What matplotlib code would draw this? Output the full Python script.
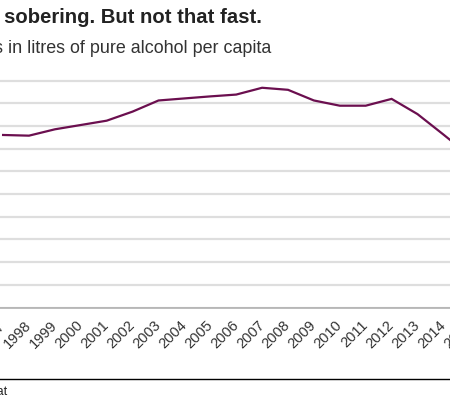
"""EU alcohol consumption, litres of pure alcohol per capita (cropped view)."""

import matplotlib
matplotlib.use("Agg")
import matplotlib.pyplot as plt
from matplotlib.lines import Line2D

years = list(range(1997, 2016))
litres = [7.60, 7.57, 7.85, 8.04, 8.23, 8.63, 9.12, 9.21, 9.30, 9.38,
          9.68, 9.59, 9.12, 8.89, 8.89, 9.19, 8.52, 7.62, 6.70]
y_ticks = list(range(0, 11))

TITLE = "EU is sobering. But not that fast."
SUBTITLE = "Alcohol consumption of EU citizens in litres of pure alcohol per capita"
SOURCE = "Source: Eurostat"

W, H = 450, 403
plt.rcParams["font.family"] = ["Liberation Sans", "DejaVu Sans"]

fig = plt.figure(figsize=(W / 100, H / 100), dpi=100)

# axes run past both figure edges so the picture looks cropped like the reference
px_per_year = 25.9
x_1997 = 3.1
left_px, right_px = -60, 510
base_px, unit_px, top_val = 307.5, 22.7, 10.3
ax = fig.add_axes([left_px / W, (H - base_px) / H,
                   (right_px - left_px) / W, unit_px * top_val / H])
ax.set_xlim(1997 + (left_px - x_1997) / px_per_year,
            1997 + (right_px - x_1997) / px_per_year)
ax.set_ylim(0, top_val)

ax.plot(years, litres, color="#6b0f4f", lw=1.6, solid_joinstyle="miter", zorder=3)

ax.set_yticks(y_ticks)
ax.yaxis.grid(True, color="#dedede", lw=1.6)
ax.set_axisbelow(True)
ax.tick_params(axis="y", left=False, labelleft=False)
ax.set_xticks(years)
ax.set_xticklabels([str(y) for y in years], rotation=45, ha="right", va="center",
                   rotation_mode="anchor", fontsize=10.5, color="#333333")
ax.tick_params(axis="x", length=0, pad=11)
for side in ("top", "left", "right"):
    ax.spines[side].set_visible(False)
ax.spines["bottom"].set_color("#b0b0b0")
ax.spines["bottom"].set_linewidth(1.2)

fig.text(262 / W, 1 - 22.7 / H, TITLE, ha="right", va="baseline",
         fontsize=14.6, fontweight="bold", color="#222222")
fig.text(271 / W, 1 - 53 / H, SUBTITLE, ha="right", va="baseline",
         fontsize=12.9, color="#333333")

fig.add_artist(Line2D([0, 1], [1 - 379.3 / H] * 2, color="black", lw=1.0,
                      transform=fig.transFigure))
fig.text(7.5 / W, 1 - 395 / H, SOURCE, ha="right", va="baseline",
         fontsize=9, color="#222222")

fig.savefig("out.png", dpi=100)
